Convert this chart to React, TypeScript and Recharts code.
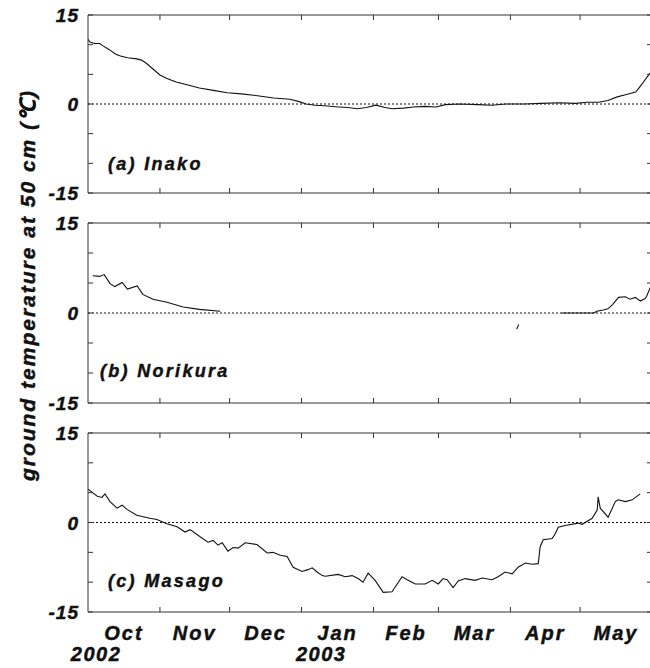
import { Line, LineChart, ReferenceLine, XAxis, YAxis } from 'recharts';

// days counted from 1 Oct 2002
const monthStarts = [31, 61, 92, 123, 151, 182, 212];
const monthMids = [15.5, 46, 76.5, 107.5, 137, 166.5, 197, 227.5];
const monthNames = ['Oct', 'Nov', 'Dec', 'Jan', 'Feb', 'Mar', 'Apr', 'May'];
const yearTicks = [3.5, 100.5];
const yearNames = ['2002', '2003'];
const tempTicks = [-15, -10, -5, 0, 5, 10, 15];
const tempLabelled = [15, 0, -15];

const inakoDays = [0, 1, 3, 5, 6.5, 9, 12, 14, 17, 21, 23, 25, 28, 31, 34, 38, 43, 48, 54, 60, 66, 73, 80, 87, 91, 94, 98, 102, 108, 112, 116, 120, 124, 128, 131, 136, 140, 145, 150, 154, 160, 168, 174, 180, 188, 195, 203, 210, 215, 220, 224, 228, 232, 236, 238, 239.5, 241, 243];
const inakoTemp = [10.9, 10.4, 10.2, 10.2, 9.8, 9.2, 8.4, 8.1, 7.8, 7.6, 7.4, 6.9, 5.9, 4.9, 4.3, 3.7, 3.2, 2.7, 2.3, 1.9, 1.7, 1.4, 1.0, 0.8, 0.4, 0.0, -0.2, -0.3, -0.5, -0.6, -0.8, -0.6, -0.2, -0.6, -0.8, -0.7, -0.5, -0.4, -0.5, -0.1, 0.0, -0.1, -0.2, 0.0, 0.0, 0.1, 0.2, 0.1, 0.3, 0.3, 0.6, 1.2, 1.6, 2.0, 3.0, 3.8, 4.6, 5.6];

const norikuraFallDays = [2, 5, 7, 9.5, 11.6, 14.7, 17, 21.2, 23.6, 28, 34, 41, 48, 57];
const norikuraFallTemp = [6.2, 6.1, 6.4, 4.9, 4.4, 5.1, 4.0, 4.5, 3.1, 2.3, 1.8, 1.0, 0.6, 0.3];
const norikuraBlipDays = [184.7, 185.6];
const norikuraBlipTemp = [-2.7, -1.9];
const norikuraSpringDays = [204, 210, 218, 219.2, 222, 224, 226, 228.6, 231.5, 233.6, 235.8, 238, 240, 240.7, 242.2, 243];
const norikuraSpringTemp = [0.0, 0.0, 0.0, 0.3, 0.5, 0.7, 1.4, 2.6, 2.7, 2.3, 2.6, 2.0, 2.4, 2.8, 4.2, 4.4];

const masagoDays = [0, 4, 6, 7.3, 9.5, 12.5, 14.7, 16.8, 21, 26.7, 29.7, 34, 38.4, 41.8, 44, 48.3, 51.7, 53.9, 56, 57.8, 60.3, 62.5, 64.7, 67.7, 72.8, 77.2, 79.7, 82.8, 85.8, 88.4, 92.2, 94.8, 96.6, 98.7, 100.9, 102.2, 107.8, 110.8, 113.8, 116.4, 118.5, 120.7, 123.7, 127.2, 131, 135.3, 137.5, 141, 145.3, 148.3, 150.9, 153, 154.7, 157.3, 159.5, 162.5, 166.8, 169.8, 174.1, 176.7, 179.7, 182.8, 185.3, 188.4, 191.4, 194, 194.8, 196.1, 200, 201.3, 202.6, 205.6, 211.2, 212.9, 217.2, 219.4, 219.8, 220.7, 224.1, 227.2, 228.4, 231.5, 234.5, 237.9];
const masagoTemp = [5.6, 4.4, 4.2, 4.8, 3.5, 2.4, 2.9, 2.2, 1.2, 0.7, 0.5, -0.2, -0.7, -1.6, -1.2, -2.4, -3.3, -3.0, -3.8, -3.4, -4.8, -4.2, -4.3, -3.4, -3.7, -5.1, -5.0, -5.5, -5.7, -7.5, -8.2, -7.9, -7.6, -8.3, -8.9, -9.0, -8.7, -9.1, -8.9, -9.4, -10.0, -8.5, -9.7, -11.7, -11.6, -9.1, -9.6, -10.3, -10.3, -9.7, -10.3, -9.4, -9.6, -10.9, -9.8, -9.4, -9.7, -9.3, -9.6, -9.1, -8.3, -8.6, -7.5, -6.8, -7.0, -6.9, -4.1, -2.9, -2.7, -1.9, -0.8, -0.5, -0.1, -0.3, 0.7, 2.1, 4.3, 2.4, 0.9, 3.5, 3.8, 3.5, 3.8, 4.8];

const toRows = (days: number[], temps: number[]) => days.map((day, i) => ({ day, temp: temps[i] }));

const FONT = '"Liberation Sans", Arial, sans-serif';
const FRAME = '#333';
const INK = '#111';
const PLOT_LEFT = 88;
const PLOT_RIGHT_PAD = 18;
const CHART_W = 670;
const TICK = 5;

// slight stroke makes the bold italic look as heavy as the scanned original
const textStyle = {
  fontFamily: FONT,
  fontWeight: 700,
  fontStyle: 'italic' as const,
  fill: INK,
  stroke: INK,
  strokeWidth: 0.45,
};

const bottomTick = (withLabels: boolean) => (p: any) => {
  const { x, y } = p;
  const v = p.payload.value;
  if (monthStarts.includes(v)) return <line x1={x} x2={x} y1={y} y2={y - TICK} stroke={FRAME} />;
  if (!withLabels) return <g />;
  const m = monthMids.indexOf(v);
  if (m >= 0)
    return (
      <text x={x} y={y + 28} textAnchor="middle" fontSize={20} letterSpacing={2} style={textStyle}>
        {monthNames[m]}
      </text>
    );
  const yr = yearTicks.indexOf(v);
  return (
    <text x={x} y={y + 49} textAnchor="middle" fontSize={20} letterSpacing={1.5} style={textStyle}>
      {yearNames[yr]}
    </text>
  );
};

const topTick = (p: any) => (
  <line x1={p.x} x2={p.x} y1={p.y} y2={p.y + TICK} stroke={FRAME} />
);

const leftTick = (p: any) => {
  const v = p.payload.value;
  return (
    <g>
      <line x1={p.x} x2={p.x + TICK} y1={p.y} y2={p.y} stroke={FRAME} />
      {tempLabelled.includes(v) && (
        <text x={p.x - 9} y={p.y + 7} textAnchor="end" fontSize={19} letterSpacing={1} style={textStyle}>
          {v}
        </text>
      )}
    </g>
  );
};

const rightTick = (p: any) => <line x1={p.x} x2={p.x - TICK} y1={p.y} y2={p.y} stroke={FRAME} />;

interface PanelProps {
  top: number;
  plotHeight: number;
  bottomPad: number;
  series: { day: number; temp: number }[][];
  withLabels: boolean;
}

const Panel = ({ top, plotHeight, bottomPad, series, withLabels }: PanelProps) => (
  <div style={{ position: 'absolute', left: 0, top }}>
    <LineChart width={CHART_W} height={10 + plotHeight + bottomPad} margin={{ top: 0, right: 0, bottom: 0, left: 0 }}>
      <XAxis
        xAxisId="b"
        dataKey="day"
        type="number"
        domain={[0, 243]}
        allowDataOverflow
        ticks={withLabels ? [...monthStarts, ...monthMids, ...yearTicks] : monthStarts}
        interval={0}
        height={bottomPad}
        tickSize={0}
        tickMargin={0}
        tickLine={false}
        axisLine={{ stroke: FRAME }}
        tick={bottomTick(withLabels)}
      />
      <XAxis
        xAxisId="t"
        orientation="top"
        dataKey="day"
        type="number"
        domain={[0, 243]}
        allowDataOverflow
        ticks={monthStarts}
        interval={0}
        height={10}
        tickSize={0}
        tickMargin={0}
        tickLine={false}
        axisLine={{ stroke: FRAME }}
        tick={topTick}
      />
      <YAxis
        yAxisId="l"
        type="number"
        domain={[-15, 15]}
        allowDataOverflow
        ticks={tempTicks}
        interval={0}
        width={PLOT_LEFT}
        tickSize={0}
        tickMargin={0}
        tickLine={false}
        axisLine={{ stroke: FRAME }}
        tick={leftTick}
      />
      <YAxis
        yAxisId="r"
        orientation="right"
        type="number"
        domain={[-15, 15]}
        allowDataOverflow
        ticks={tempTicks}
        interval={0}
        width={PLOT_RIGHT_PAD}
        tickSize={0}
        tickMargin={0}
        tickLine={false}
        axisLine={{ stroke: FRAME }}
        tick={rightTick}
      />
      <ReferenceLine xAxisId="b" yAxisId="l" y={0} stroke={INK} strokeDasharray="2 2" />
      {series.map((rows, i) => (
        <Line
          key={i}
          xAxisId="b"
          yAxisId="l"
          data={rows}
          dataKey="temp"
          type="linear"
          stroke={INK}
          strokeWidth={1.1}
          dot={false}
          isAnimationActive={false}
        />
      ))}
    </LineChart>
  </div>
);

const panelLabels = [
  { text: '(a) Inako', x: 108, y: 170 },
  { text: '(b) Norikura', x: 100, y: 377 },
  { text: '(c) Masago', x: 108, y: 587 },
];

export default function App() {
  return (
    <div style={{ position: 'absolute', left: 0, top: 0, width: 650, height: 668, overflow: 'hidden', background: '#fff' }}>
      <Panel top={5} plotHeight={178} bottomPad={10} withLabels={false} series={[toRows(inakoDays, inakoTemp)]} />
      <Panel
        top={213}
        plotHeight={180}
        bottomPad={10}
        withLabels={false}
        series={[
          toRows(norikuraFallDays, norikuraFallTemp),
          toRows(norikuraBlipDays, norikuraBlipTemp),
          toRows(norikuraSpringDays, norikuraSpringTemp),
        ]}
      />
      <Panel top={423} plotHeight={179} bottomPad={56} withLabels series={[toRows(masagoDays, masagoTemp)]} />
      <svg width={650} height={668} style={{ position: 'absolute', left: 0, top: 0, pointerEvents: 'none' }}>
        <text
          x={27}
          y={285}
          transform="rotate(-90 27 285)"
          textAnchor="middle"
          dominantBaseline="central"
          fontSize={21}
          letterSpacing={2}
          style={textStyle}
        >
          ground temperature at 50 cm (℃)
        </text>
        {panelLabels.map((l) => (
          <text key={l.text} x={l.x} y={l.y} fontSize={18} letterSpacing={2.3} style={textStyle}>
            {l.text}
          </text>
        ))}
      </svg>
    </div>
  );
}
